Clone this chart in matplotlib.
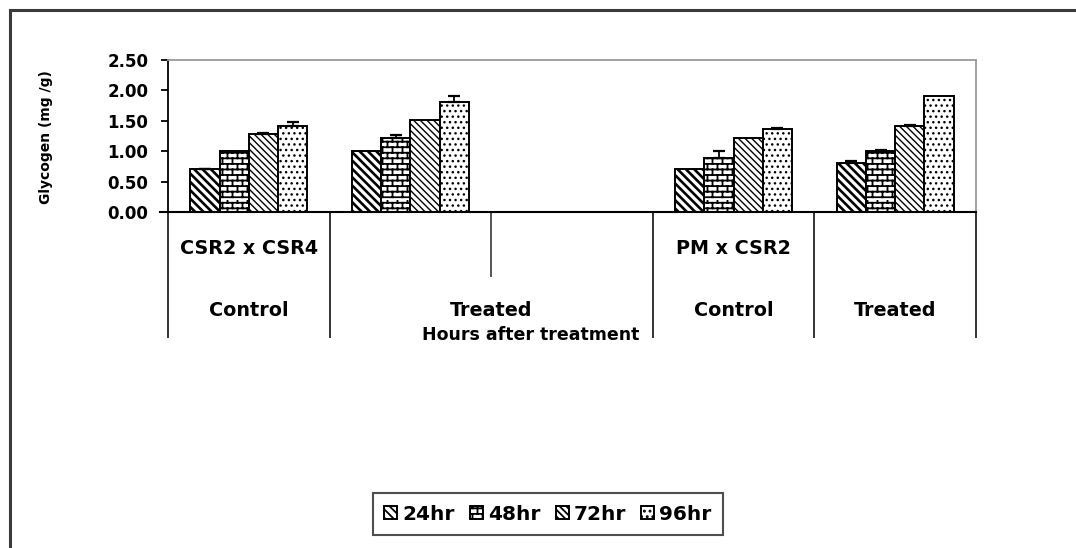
import warnings
warnings.filterwarnings("ignore")
import numpy as np
import matplotlib
matplotlib.use("Agg")
import matplotlib.pyplot as plt
import matplotlib.hatch as mhatch
from matplotlib.path import Path
from matplotlib.transforms import blended_transform_factory
from matplotlib.lines import Line2D

# ---------------- data ----------------
series = ["24hr", "48hr", "72hr", "96hr"]
slot_labels = ["Control", "Treated", "", "Control", "Treated"]
cross_labels = ["CSR2 x CSR4", "", "", "PM x CSR2", ""]
v24 = [0.70, 1.00, np.nan, 0.70, 0.80]
v48 = [1.00, 1.22, np.nan, 0.89, 1.00]
v72 = [1.28, 1.51, np.nan, 1.21, 1.41]
v96 = [1.41, 1.81, np.nan, 1.36, 1.91]
e24 = [0.01, 0.00, 0.0, 0.00, 0.04]
e48 = [0.00, 0.04, 0.0, 0.11, 0.02]
e72 = [0.02, 0.00, 0.0, 0.00, 0.02]
e96 = [0.07, 0.10, 0.0, 0.02, 0.00]
yticks = [0.0, 0.5, 1.0, 1.5, 2.0, 2.5]
ylabel = "Glycogen (mg /g)"
xlabel = "Hours after treatment"

values = [v24, v48, v72, v96]
errors = [e24, e48, e72, e96]

# ---------------- custom brick hatch ----------------
class BrickHatch(mhatch.HatchPatternBase):
    def __init__(self, hatch, density):
        n = hatch.count('b')
        self.rows = 18 if n else 0
        self.cols = 10 if n else 0
        self.num_vertices = (self.rows * 2 + self.rows * self.cols * 2) if n else 0

    def set_vertices_and_codes(self, vertices, codes):
        verts = []
        h = 1.0 / self.rows
        w = 1.0 / self.cols
        for i in range(self.rows):
            y = i * h + h / 2
            verts += [(0.0, y), (1.0, y)]
        for i in range(self.rows):
            y0 = i * h + h / 2
            y1 = y0 + h
            off = w / 4 if i % 2 == 0 else w / 4 + w / 2
            for k in range(self.cols):
                x = off + k * w
                verts += [(x, y0), (x, y1)]
        vertices[:] = np.array(verts)
        codes[0::2] = Path.MOVETO
        codes[1::2] = Path.LINETO

mhatch._hatch_types.append(BrickHatch)

plt.rcParams['font.family'] = ['DejaVu Sans']
plt.rcParams['hatch.color'] = 'black'
plt.rcParams['hatch.linewidth'] = 1.3

W, H = 1076, 548
fig = plt.figure(figsize=(W / 100, H / 100), dpi=100)
ax = fig.add_axes([168 / W, 1 - 212 / H, (976 - 168) / W, (212 - 60) / H])

hatches = ['\\' * 4, 'b', '\\' * 5, '...']
hlw = [1.9, 1.3, 1.0, 1.0]
n = len(slot_labels)
x = np.arange(n)
bw = 0.181
for i, (vals, errs) in enumerate(zip(values, errors)):
    pos = x + (i - 1.5) * bw
    bars = ax.bar(pos, vals, bw, color='white', edgecolor='black', linewidth=1.4,
                  hatch=hatches[i], label=series[i], zorder=2)
    for b in bars:
        if hasattr(b, 'set_hatch_linewidth'):
            b.set_hatch_linewidth(hlw[i])
    vals_a = np.array(vals, dtype=float)
    errs_a = np.array(errs, dtype=float)
    mask = ~np.isnan(vals_a) & (errs_a > 0)
    ax.errorbar(pos[mask], vals_a[mask], yerr=[np.zeros(mask.sum()), errs_a[mask]],
                fmt='none', ecolor='black', elinewidth=1.3, capsize=4.5,
                capthick=1.6, zorder=3)

ax.set_xlim(-0.5, n - 0.5)
ax.set_ylim(0, 2.5)
ax.set_yticks(yticks)
ax.set_yticklabels([f"{t:.2f}" for t in yticks], fontsize=12, fontweight='bold')
ax.set_xticks([])
ax.tick_params(axis='y', direction='out', length=5, width=1.3, pad=9, color='black')
for s in ['top', 'right']:
    ax.spines[s].set_color('#9a9a9a')
    ax.spines[s].set_linewidth(1.3)
ax.spines['left'].set_color('black')
ax.spines['left'].set_linewidth(1.3)
ax.spines['bottom'].set_color('black')
ax.spines['bottom'].set_linewidth(1.5)

# bottom axis small extension to the left
fig.add_artist(Line2D([160 / W, 168 / W], [1 - 212 / H] * 2, color='black', lw=1.5))

# multi-level category axis
tr = blended_transform_factory(ax.transData, fig.transFigure)
def fy(py):
    return 1 - py / H

long_edges = [-0.5, 0.5, 2.5, 3.5, 4.5]
for xe in long_edges:
    ax.plot([xe, xe], [fy(213), fy(337)], color='#333333', lw=1.4,
            transform=tr, clip_on=False)
ax.plot([1.5, 1.5], [fy(213), fy(276)], color='#555555', lw=1.4,
        transform=tr, clip_on=False)

for i, lab in enumerate(cross_labels):
    if lab:
        ax.text(i, fy(248), lab, transform=tr, ha='center', va='center',
                fontsize=13.8, fontweight='bold')

spans = [(0, 1), (1, 3), (3, 4), (4, 5)]
treat_labels = [l for l in slot_labels if l]
for (a, b), lab in zip(spans, treat_labels):
    ax.text((a + b - 1) / 2, fy(311), lab, transform=tr, ha='center', va='center',
            fontsize=13.8, fontweight='bold')

fig.text(531 / W, fy(335), xlabel, ha='center', va='center', fontsize=12.5,
         fontweight='bold')
fig.text(46 / W, fy(137), ylabel, rotation=90, ha='center', va='center',
         fontsize=10, fontweight='bold')

leg = fig.legend(loc='center', bbox_to_anchor=(548 / W, fy(514)), ncol=4,
                 prop={'size': 14.5, 'weight': 'bold'}, frameon=True,
                 fancybox=False, edgecolor='#222222', handlelength=0.65,
                 handleheight=0.65, handletextpad=0.25, columnspacing=0.75,
                 borderpad=0.55, borderaxespad=0)
leg.get_frame().set_linewidth(1.5)

fig.add_artist(Line2D([10 / W, 1.0], [fy(10), fy(10)], color='#3a3a3a', lw=2.2))
fig.add_artist(Line2D([10 / W, 10 / W], [fy(10), 0.0], color='#3a3a3a', lw=2.2))

fig.savefig("out.png", dpi=100)
